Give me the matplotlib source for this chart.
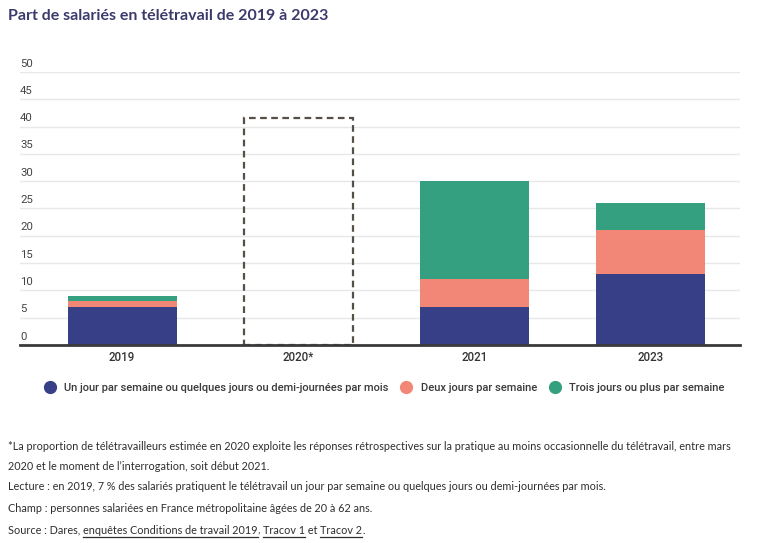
"""Part de salariés en télétravail de 2019 à 2023 — stacked bars."""

import matplotlib

matplotlib.use("Agg")
import matplotlib.pyplot as plt  # noqa: E402
from matplotlib.lines import Line2D  # noqa: E402

years = ["2019", "2020*", "2021", "2023"]
un_jour = [7, 0, 7, 13]
deux_jours = [1, 0, 5, 8]
trois_jours = [1, 0, 18, 5]
total_2020 = 41.6  # only the overall share is known for 2020

series_labels = [
    "Un jour par semaine ou quelques jours ou demi-journées par mois",
    "Deux jours par semaine",
    "Trois jours ou plus par semaine",
]
colors = ["#373f86", "#f28677", "#34a07f"]
yticks = [0, 5, 10, 15, 20, 25, 30, 35, 40, 45, 50]

title = "Part de salariés en télétravail de 2019 à 2023"
notes = [
    "*La proportion de télétravailleurs estimée en 2020 exploite les réponses rétrospectives "
    "sur la pratique au moins occasionnelle du télétravail, entre mars",
    "2020 et le moment de l\u2019interrogation, soit début 2021.",
    "Lecture : en 2019, 7 % des salariés pratiquent le télétravail un jour par semaine "
    "ou quelques jours ou demi-journées par mois.",
    "Champ : personnes salariées en France métropolitaine âgées de 20 à 62 ans.",
]
source_parts = [
    ("Source : Dares, ", False),
    ("enquêtes Conditions de travail 2019", True),
    (", ", False),
    ("Tracov 1", True),
    (" et ", False),
    ("Tracov 2", True),
    (".", False),
]

W, H = 763, 543
fig = plt.figure(figsize=(W / 100, H / 100), dpi=100)
ax = fig.add_axes([20 / W, (H - 345) / H, 720 / W, 273 / H])

x = list(range(len(years)))
bw = 0.62
bottom = [0] * len(years)
for vals, lab, col in zip([un_jour, deux_jours, trois_jours], series_labels, colors):
    ax.bar(x, vals, bw, bottom=bottom, color=col, label=lab, zorder=3)
    bottom = [b + v for b, v in zip(bottom, vals)]

ax.bar(1, total_2020, bw, fill=False, edgecolor="#555045", linestyle=(0, (3, 2)),
       linewidth=1.6, zorder=3)

ax.set_xlim(-0.58, 3.51)
ax.set_ylim(0, 50)
ax.set_yticks(yticks)
ax.yaxis.grid(True, color="#e8e8e8", linewidth=1, zorder=0)
ax.tick_params(axis="y", length=0, labelleft=False)
for t in yticks:
    ax.annotate(str(t), xy=(0, t), xycoords=ax.get_yaxis_transform(),
                xytext=(0, 2.5), textcoords="offset points", ha="left", va="bottom",
                fontsize=8.2, color="#444444", family="Roboto")

ax.set_xticks(x)
ax.set_xticklabels(years, fontsize=8.3, color="#333333", family="Roboto",
                   fontweight="medium")
ax.tick_params(axis="x", length=0, pad=4)
for s in ["top", "right", "left"]:
    ax.spines[s].set_visible(False)
ax.spines["bottom"].set_color("#3a3a3a")
ax.spines["bottom"].set_linewidth(2)
ax.spines["bottom"].set_zorder(4)

handles = [Line2D([], [], marker="o", linestyle="", markersize=8.5, color=c) for c in colors]
fig.legend(handles, series_labels, loc="center", bbox_to_anchor=(0.5, (H - 388) / H),
           ncol=3, frameon=False, handletextpad=0.3, columnspacing=0.6,
           prop={"family": "Roboto", "size": 8.0, "weight": "medium"},
           labelcolor="#3a3a3a")

fig.text(8 / W, 1 - 16 / H, title, fontsize=11.5, fontweight="bold", color="#3c3a6d",
         family="Lato", va="center", ha="left")

note_y = [446, 466, 487, 508]
for yy, line in zip(note_y, notes):
    fig.text(8 / W, 1 - yy / H, line, fontsize=7.85, color="#2e2e2e", family="Lato",
             va="center", ha="left")

# source line with underlined links
renderer = fig.canvas.get_renderer()
xpix = 8
ypix = 530
for part, underline in source_parts:
    t = fig.text(xpix / W, 1 - ypix / H, part, fontsize=7.85, color="#2e2e2e",
                 family="Lato", va="center", ha="left")
    bb = t.get_window_extent(renderer)
    if underline:
        yl = bb.y0 - 1.5
        fig.add_artist(Line2D([bb.x0 / W, bb.x1 / W], [yl / H, yl / H], color="#2e2e2e",
                              linewidth=0.9))
    xpix += bb.width

fig.savefig("out.png", dpi=100)
